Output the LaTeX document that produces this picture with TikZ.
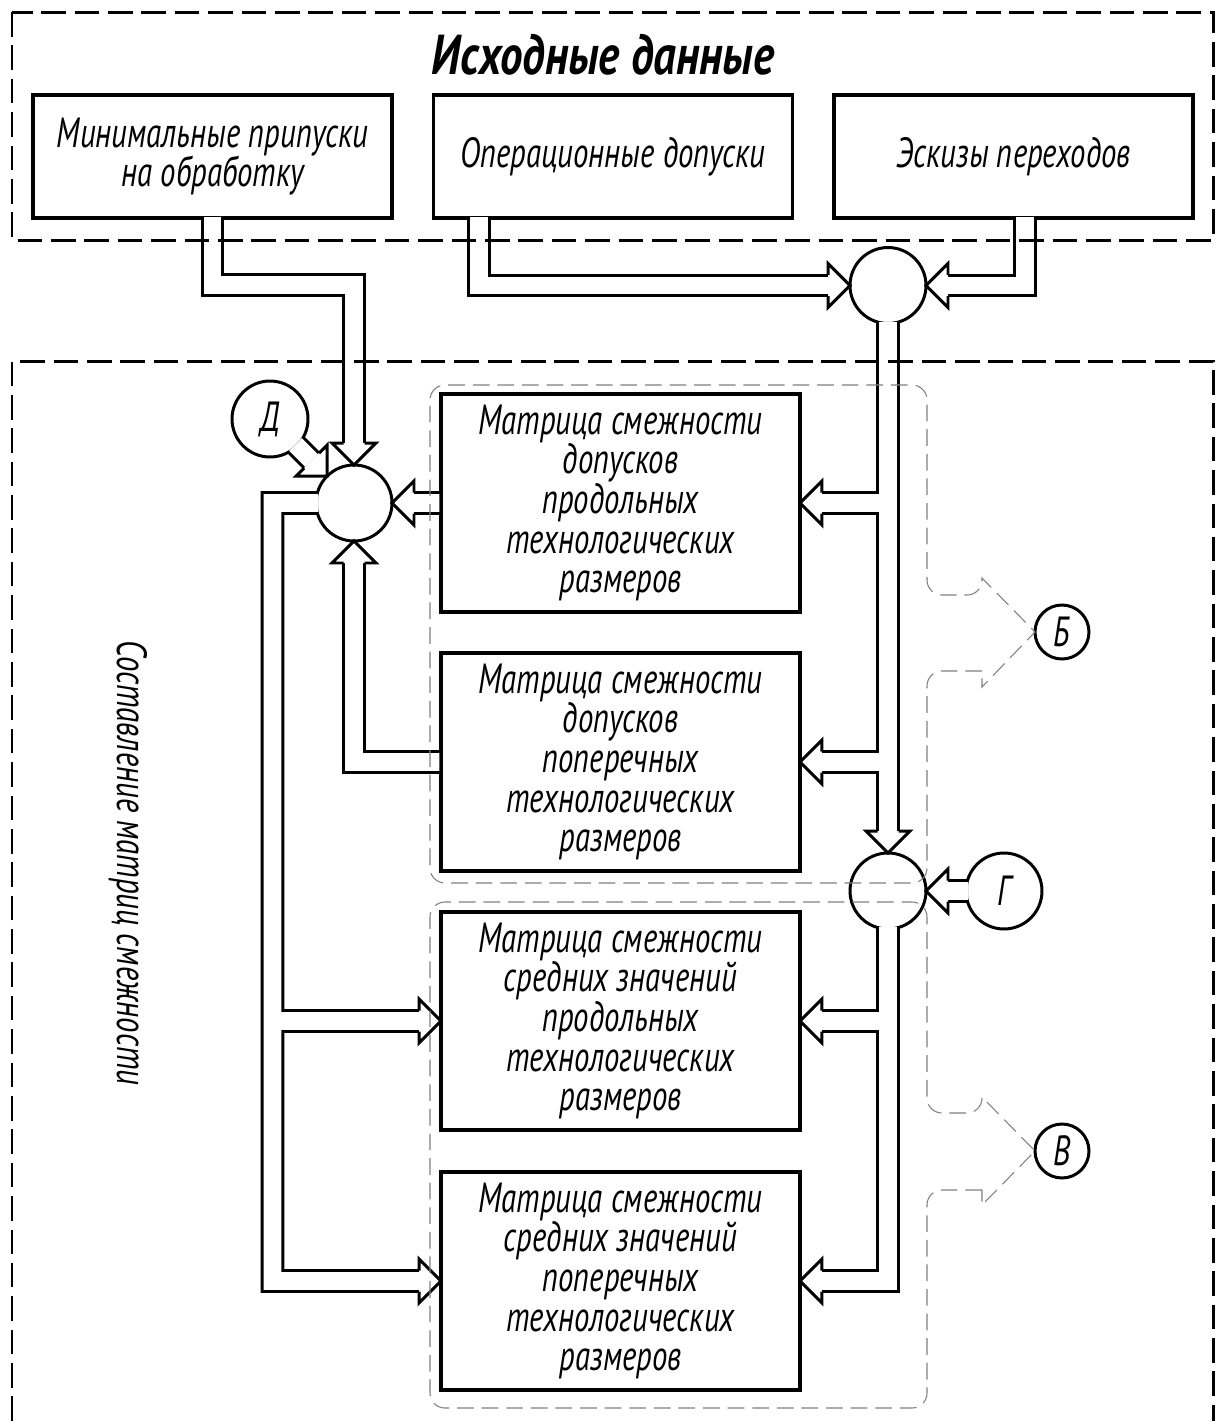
\documentclass[tikz,border=0pt]{standalone}
\usepackage{fontspec}
\usepackage{tikz}
\usetikzlibrary{calc}
\newfontfamily\gostfamily{PT Sans}[FakeStretch=0.73]
\newfontfamily\gosthead{PT Sans}[FakeStretch=0.8]
\newcommand{\gostbox}{\gostfamily\itshape\fontsize{24}{22.6}\selectfont}
\newcommand{\gosttitle}{\gosthead\bfseries\itshape\fontsize{32}{36}\selectfont}
\newcommand{\pipehead}[2]{%
  \filldraw[pipehd, shift={#1}, rotate=#2] (-22,10.5) -- (-22,22) -- (0,0) -- (-22,-22) -- (-22,-10.5);}
\tikzset{
  frame/.style={line width=1.7pt, dash pattern=on 14pt off 5pt},
  group/.style={gray, line width=0.6pt, dash pattern=on 9.5pt off 4.5pt},
  srcbox/.style={draw, line width=2pt, fill=white, minimum width=7.18cm, minimum height=2.46cm,
    inner sep=0pt, outer sep=0pt, align=center, font=\gostbox},
  matbox/.style={srcbox, minimum height=4.37cm},
  junc/.style={draw, circle, line width=1.7pt, fill=white, minimum size=1.52cm, inner sep=0pt, outer sep=0pt},
  tagc/.style={junc, font=\gostbox},
  tags/.style={junc, minimum size=1.08cm, font=\gostbox},
  pipe/.style={line width=1.7pt, double, double distance=10.2pt, line join=miter},
  pipehd/.style={fill=white, draw=black, line width=1.7pt, line join=miter}
}

\begin{document}
\begin{tikzpicture}[x=0.02cm,y=-0.02cm]
    \useasboundingbox (0,0) rectangle (1224,1421);

    % source data
    \node[font=\gosttitle] (title) at (603,55) {Исходные данные};
    \node[srcbox] (srcA) at (212.5,156.5) {Минимальные припуски\\на обработку};
    \node[srcbox] (srcB) at (613,156.5) {Операционные допуски};
    \node[srcbox] (srcC) at (1013.5,156.5) {Эскизы переходов};

    % adjacency matrices
    \node[matbox] (mA) at (620.5,503) {Матрица смежности\\допусков\\продольных\\технологических\\размеров};
    \node[matbox] (mB) at (620.5,762) {Матрица смежности\\допусков\\поперечных\\технологических\\размеров};
    \node[matbox] (mC) at (620.5,1021) {Матрица смежности\\средних значений\\продольных\\технологических\\размеров};
    \node[matbox] (mD) at (620.5,1281) {Матрица смежности\\средних значений\\поперечных\\технологических\\размеров};

    \node[font=\gostbox, rotate=-90] (side) at (128,863) {Составление матриц смежности};

    % junctions and marks
    \node[junc] (jleft) at (354,503) {};
    \node[junc] (jtop) at (888,285.5) {};
    \node[junc] (jmid) at (888,891) {};
    \node[tagc] (nD) at (270,419) {Д};
    \node[tagc] (nG) at (1004,891) {Г};
    \node[tags] (nB) at (1062,632) {Б};
    \node[tags] (nV) at (1062,1151) {В};

    % pipes
    \draw[pipe]
        (212.5,216.5) -- (212.5,285) -- (354,285) -- ($(jleft.north)+(0,-22)$)
        (479,216.5) -- (479,285.5) -- ($(jtop.west)+(-22,0)$)
        (1025,216.5) -- (1025,285.5) -- ($(jtop.east)+(22,0)$);

    \draw[pipe]
        ($(jtop.south)+(0,-2)$) -- ($(jmid.north)+(0,-22)$)
        (mA.east -| jtop) -- ($(mA.east)+(22,0)$)
        (mB.east -| jtop) -- ($(mB.east)+(22,0)$)
        ($(jmid.south)+(0,-2)$) -- (mD.east -| jmid) -- ($(mD.east)+(22,0)$)
        (mC.east -| jmid) -- ($(mC.east)+(22,0)$);

    \coordinate (lp) at (272.5,503);
    \draw[pipe]
        ($(jleft.west)+(2,0)$) -- (lp) -- (lp |- mD.west) -- ($(mD.west)+(-22,0)$)
        (lp |- mC.west) -- ($(mC.west)+(-22,0)$)
        ($(mA.west)+(-1.75,0)$) -- ($(jleft.east)+(22,0)$)
        ($(mB.west)+(-1.75,0)$) -- (mB.west -| jleft) -- ($(jleft.south)+(0,22)$)
        ($(nD.south east)+(-1.4,-1.4)$) -- ($(jleft.north west)+(-15.6,-15.6)$)
        ($(nG.west)+(2,0)$) -- ($(jmid.east)+(22,0)$);

    \pipehead{(jleft.north)}{-90}
    \pipehead{(jleft.east)}{180}
    \pipehead{(jleft.south)}{90}
    \pipehead{(jleft.north west)}{-45}
    \pipehead{(jtop.west)}{0}
    \pipehead{(jtop.east)}{180}
    \pipehead{(jmid.north)}{-90}
    \pipehead{(jmid.east)}{180}
    \pipehead{(mA.east)}{180}
    \pipehead{(mB.east)}{180}
    \pipehead{(mC.east)}{180}
    \pipehead{(mD.east)}{180}
    \pipehead{(mC.west)}{0}
    \pipehead{(mD.west)}{0}

    % frames
    \draw[frame] (12,12) rectangle (1213,240);
    \draw[frame] (12,1421) -- (12,361) -- (1213,361) -- (1213,1421);

    % groups
    \draw[group] (982,671) [rounded corners=8.5pt] -- (927,671) -- (927,883) -- (430,883) -- (430,385)
        -- (927,385) -- (927,595) -- (982,595) [sharp corners] -- (982,578) -- (1035,632) -- (982,687) -- cycle;
    \draw[group] (982,1190) [rounded corners=8.5pt] -- (927,1190) -- (927,1408) -- (430,1408) -- (430,902)
        -- (927,902) -- (927,1113) -- (982,1113) [sharp corners] -- (982,1097) -- (1035,1151) -- (982,1205) -- cycle;
\end{tikzpicture}
\end{document}
